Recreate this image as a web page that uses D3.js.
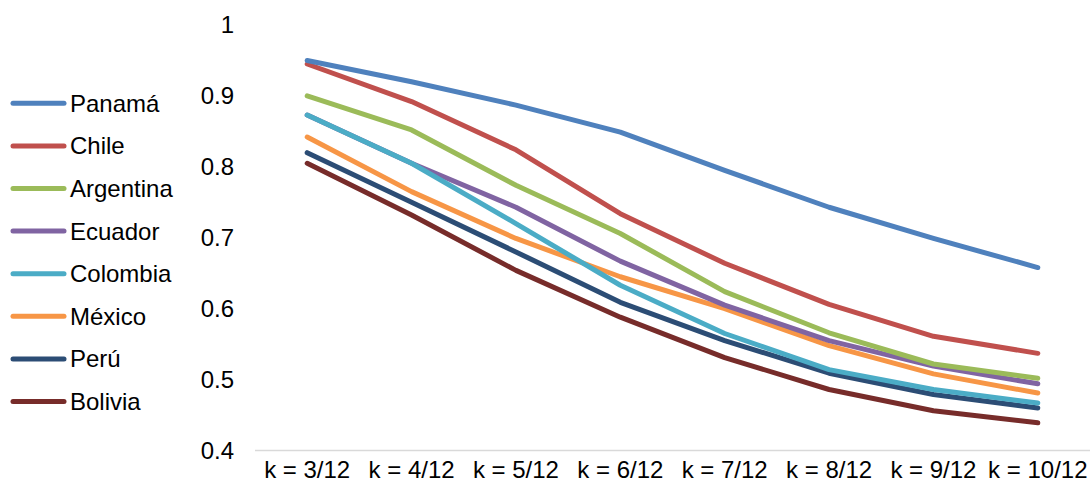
<!DOCTYPE html>
<html><head><meta charset="utf-8">
<script src="https://cdn.jsdelivr.net/npm/d3@7"></script>
<style>html,body{margin:0;padding:0;background:#fff;}svg{display:block;font-family:"Liberation Sans",Arial,sans-serif;}</style>
</head><body><svg id="c" width="1090" height="488"></svg>
<script>
const categories = ["k = 3/12","k = 4/12","k = 5/12","k = 6/12","k = 7/12","k = 8/12","k = 9/12","k = 10/12"];
const seriesNames = ["Panamá","Chile","Argentina","Ecuador","Colombia","México","Perú","Bolivia"];
const panama    = [0.950,0.920,0.887,0.849,0.795,0.743,0.699,0.658];
const chile     = [0.945,0.892,0.824,0.734,0.664,0.606,0.561,0.537];
const argentina = [0.900,0.852,0.774,0.706,0.624,0.566,0.522,0.502];
const ecuador   = [0.873,0.805,0.743,0.667,0.605,0.555,0.519,0.494];
const colombia  = [0.873,0.805,0.720,0.633,0.565,0.514,0.486,0.467];
const mexico    = [0.842,0.765,0.699,0.645,0.600,0.548,0.508,0.481];
const peru      = [0.820,0.750,0.680,0.609,0.555,0.509,0.479,0.460];
const bolivia   = [0.805,0.732,0.654,0.588,0.531,0.486,0.456,0.439];
const yTicks = [0.4,0.5,0.6,0.7,0.8,0.9,1];
const yTickLabels = ["0.4","0.5","0.6","0.7","0.8","0.9","1"];
const colors = ["#4F81BD","#C0504D","#9BBB59","#8064A2","#4BACC6","#F79646","#2C4D75","#772C2A"];

const series = [panama,chile,argentina,ecuador,colombia,mexico,peru,bolivia];
const svg = d3.select("#c");
const x = d3.scaleBand().domain(categories).range([255,1090]).padding(0);
const y = d3.scaleLinear().domain([0.4,1]).range([450.5,25]);

svg.append("line").attr("x1",255).attr("x2",1090).attr("y1",y(0.4)).attr("y2",y(0.4))
  .attr("stroke","#D9D9D9").attr("stroke-width",1.5);

svg.append("g").selectAll("text").data(yTicks).join("text")
  .attr("x",234).attr("y",d=>y(d)).attr("dy","0.35em").attr("text-anchor","end")
  .attr("font-size",24).attr("fill","#000")
  .text((d,i)=>yTickLabels[i]);

svg.append("g").selectAll("text").data(categories).join("text")
  .attr("x",d=>x(d)+x.bandwidth()/2).attr("y",470).attr("dy","0.35em").attr("text-anchor","middle")
  .attr("font-size",24).attr("fill","#000").text(d=>d);

const line = d3.line().x((d,i)=>x(categories[i])+x.bandwidth()/2).y(d=>y(d));
const order = [7,6,5,3,4,2,1,0];
svg.append("g").selectAll("path").data(order).join("path")
  .attr("d",i=>line(series[i])).attr("fill","none").attr("stroke",i=>colors[i])
  .attr("stroke-width",5).attr("stroke-linecap","round").attr("stroke-linejoin","round");

const lg = svg.append("g");
seriesNames.forEach((n,i)=>{
  const ly = 103.3 + i*42.6;
  lg.append("line").attr("x1",13).attr("x2",64).attr("y1",ly).attr("y2",ly)
    .attr("stroke",colors[i]).attr("stroke-width",5).attr("stroke-linecap","round");
  lg.append("text").attr("x",70).attr("y",ly).attr("dy","0.35em").attr("font-size",24).attr("fill","#000").text(n);
});
</script></body></html>
